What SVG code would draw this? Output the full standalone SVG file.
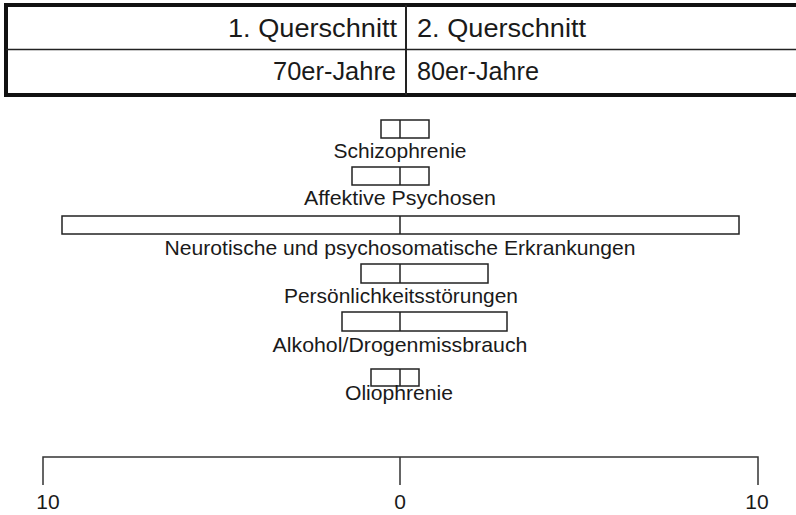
<svg xmlns="http://www.w3.org/2000/svg" width="796" height="515" viewBox="0 0 796 515">
<style>
text{font-family:"Liberation Sans",Arial,sans-serif;fill:#1a1a1a}
.h{font-size:26px}
.l{font-size:21px;text-anchor:middle}
.bar{fill:#fff;stroke:#222;stroke-width:1.5}
.div{stroke:#222;stroke-width:1.5}
.ax{fill:none;stroke:#333;stroke-width:1.5}
</style>
<g id="table">
<rect x="6" y="5" width="800" height="90" fill="#fff" stroke="#111" stroke-width="4"/>
<line x1="6" y1="49.5" x2="796" y2="49.5" stroke="#222" stroke-width="1.5"/>
<line x1="406" y1="5" x2="406" y2="95" stroke="#222" stroke-width="2"/>
<text class="h" x="397" y="37" text-anchor="end" textLength="169" lengthAdjust="spacingAndGlyphs">1. Querschnitt</text>
<text class="h" x="417" y="37" textLength="169" lengthAdjust="spacingAndGlyphs">2. Querschnitt</text>
<text class="h" x="396" y="80" text-anchor="end" textLength="123" lengthAdjust="spacingAndGlyphs">70er-Jahre</text>
<text class="h" x="417" y="80" textLength="122" lengthAdjust="spacingAndGlyphs">80er-Jahre</text>
</g>
<g id="schizophrenie">
<rect class="bar" x="381" y="120" width="48" height="18"/>
<line class="div" x1="400" y1="120" x2="400" y2="138"/>
<text class="l" x="400" y="158" textLength="133" lengthAdjust="spacingAndGlyphs">Schizophrenie</text>
</g>
<g id="affektive">
<rect class="bar" x="352" y="167" width="77" height="18"/>
<line class="div" x1="400" y1="167" x2="400" y2="185"/>
<text class="l" x="400" y="205" textLength="192" lengthAdjust="spacingAndGlyphs">Affektive Psychosen</text>
</g>
<g id="neurotische">
<rect class="bar" x="62" y="216" width="677" height="18"/>
<line class="div" x1="400" y1="216" x2="400" y2="234"/>
<text class="l" x="400" y="255" textLength="471" lengthAdjust="spacingAndGlyphs">Neurotische und psychosomatische Erkrankungen</text>
</g>
<g id="persoenlichkeit">
<rect class="bar" x="361" y="264" width="127" height="19"/>
<line class="div" x1="400" y1="264" x2="400" y2="283"/>
<text class="l" x="401" y="303" textLength="234" lengthAdjust="spacingAndGlyphs">Persönlichkeitsstörungen</text>
</g>
<g id="alkohol">
<rect class="bar" x="342" y="312" width="165" height="19"/>
<line class="div" x1="400" y1="312" x2="400" y2="331"/>
<text class="l" x="400" y="352" textLength="255" lengthAdjust="spacingAndGlyphs">Alkohol/Drogenmissbrauch</text>
</g>
<g id="oliophrenie">
<rect class="bar" x="371" y="369" width="48" height="17"/>
<line class="div" x1="400" y1="369" x2="400" y2="386"/>
<text class="l" x="399" y="400" textLength="108" lengthAdjust="spacingAndGlyphs">Oliophrenie</text>
</g>
<g id="axis">
<path class="ax" d="M43 485V457H758V485M400 457V485"/>
<text class="l" x="48" y="509">10</text>
<text class="l" x="400" y="509">0</text>
<text class="l" x="757" y="509">10</text>
</g>
</svg>
